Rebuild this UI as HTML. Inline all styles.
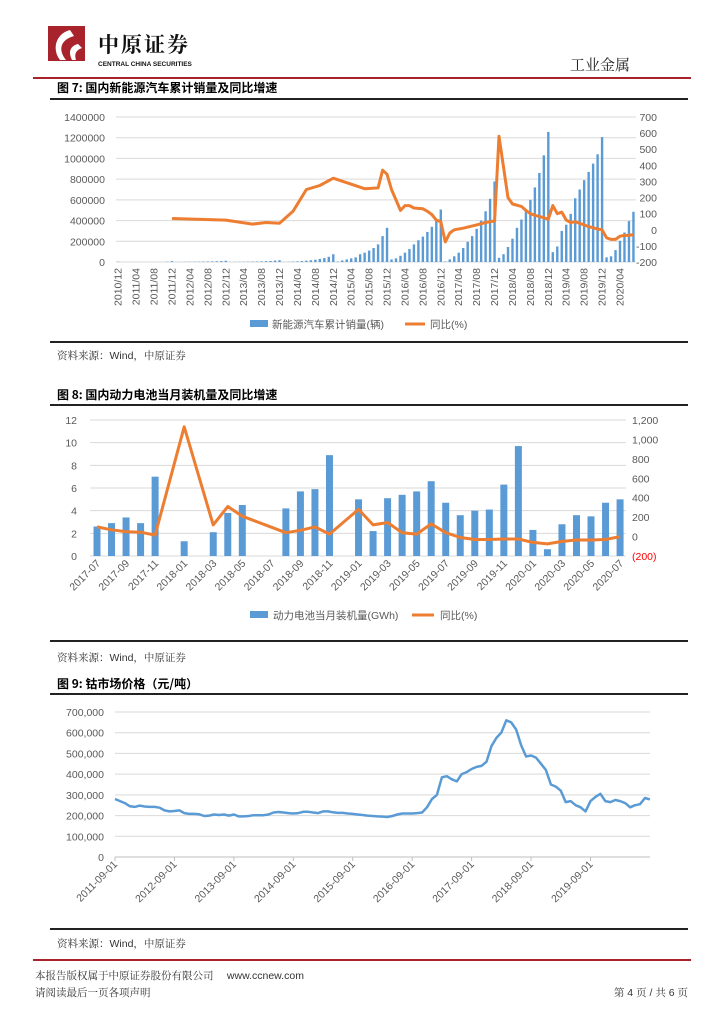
<!DOCTYPE html>
<html><head><meta charset="utf-8">
<style>
body{margin:0;background:#fff;}
svg{display:block;font-family:"Liberation Sans","Noto Sans CJK SC",sans-serif;}
.tk{font-size:10.5px;fill:#595959;}
.ttl{font-size:12px;font-weight:bold;fill:#000;font-family:"Noto Sans CJK SC",sans-serif;}
.src{font-size:10.5px;fill:#333;font-family:"Liberation Sans","Noto Serif CJK SC",serif;}
</style></head>
<body>
<svg id="pg" width="724" height="1024" viewBox="0 0 724 1024">
  <!-- header -->
  <g>
    <rect x="48" y="26" width="37" height="35" fill="#a8232b"/>
    <path d="M70 30 C55 34 52 50 60 60 L66 60 C58 50 60 40 74 36 Z" fill="#fff"/>
    <path d="M78 44 C70 46 68 52 72 60 L76 60 C74 54 76 50 82 48 Z" fill="#fff"/>
    <text x="98" y="52" font-size="21" font-weight="bold" fill="#111" font-family="Noto Serif CJK SC,serif" letter-spacing="2">中原证券</text>
    <text x="98" y="66" font-size="6.5" font-weight="bold" fill="#111">CENTRAL CHINA SECURITIES</text>
  </g>
  <text x="570" y="70" font-size="15" fill="#222" font-family="Noto Serif CJK SC,serif">工业金属</text>
  <rect x="33" y="77" width="658" height="2" fill="#a8232b"/>

  <text x="57" y="92" class="ttl">图 7:  国内新能源汽车累计销量及同比增速</text>
  <rect x="50" y="98" width="638" height="2" fill="#222"/>
  <g id="c1"></g>
  <rect x="50" y="341" width="638" height="2" fill="#222"/>
  <text x="57" y="359" class="src">资料来源：Wind，中原证券</text>

  <text x="57" y="399" class="ttl">图 8:  国内动力电池当月装机量及同比增速</text>
  <rect x="50" y="404" width="638" height="2" fill="#222"/>
  <g id="c2"></g>
  <rect x="50" y="640" width="638" height="2" fill="#222"/>
  <text x="57" y="661" class="src">资料来源：Wind，中原证券</text>

  <text x="57" y="688" class="ttl">图 9:  钴市场价格（元/吨）</text>
  <rect x="50" y="693" width="638" height="2" fill="#222"/>
  <g id="c3"></g>
  <rect x="50" y="928" width="638" height="2" fill="#222"/>
  <text x="57" y="947" class="src">资料来源：Wind，中原证券</text>

  <rect x="33" y="959" width="658" height="2" fill="#a8232b"/>
  <text x="35" y="979" class="src" font-size="11">本报告版权属于中原证券股份有限公司　 www.ccnew.com</text>
  <text x="35" y="996" class="src" font-size="11">请阅读最后一页各项声明</text>
  <text x="688" y="996" text-anchor="end" class="src" font-size="11">第 4 页 / 共 6 页</text>
</svg>
<script>
const NS="http://www.w3.org/2000/svg";
function mk(p,tag,at,txt){const e=document.createElementNS(NS,tag);for(const k in at)e.setAttribute(k,at[k]);if(txt!==undefined)e.textContent=txt;p.appendChild(e);return e;}

/* ---------- Chart 1 data ---------- */
const c1Start=[2010,12];
const c1Sales=[3000,
0,0,0,0,0,0,0,0,0,0,3000,8000,
500,1000,1500,2000,2500,3000,4000,5000,6000,7000,9000,12000,
500,1000,1500,2000,3000,4000,5000,6000,8000,10000,14000,17000,
1000,2000,4000,6000,9000,13000,17000,22000,30000,38000,50000,75000,
5000,15000,25000,35000,45000,75000,90000,110000,135000,170000,250000,330000,
25000,35000,60000,90000,125000,170000,210000,245000,290000,340000,400000,507000,
5000,25000,55000,90000,135000,195000,250000,320000,400000,490000,610000,777000,
40000,75000,145000,225000,330000,410000,500000,600000,720000,860000,1030000,1256000,
95000,150000,300000,360000,465000,615000,700000,790000,870000,950000,1040000,1206000,
45000,55000,115000,205000,285000,395000,485000];
const c1YoyIdx=[12,24,30,33,36,39,42,45,48,55,58,59,60,61,63,64,65,66,68,69,70,71,72,73,74,75,77,80,82,84,85,87,88,90,91,92,93,95,96,97,98,99,100,101,102,103,104,105,107,108,109,110,111,112,113,114,115];
const c1Yoy=[70,60,35,45,40,115,250,275,320,255,260,370,345,250,120,150,150,135,130,115,95,60,50,-75,-20,0,10,30,45,55,580,200,160,145,120,100,90,75,65,150,100,110,60,45,50,40,30,20,5,0,-50,-60,-60,-40,-35,-35,-30];
const c1LeftTicks=["0","200000","400000","600000","800000","1000000","1200000","1400000"];
const c1RightTicks=["-200","-100","0","100","200","300","400","500","600","700"];

/* ---------- Chart 2 data ---------- */
const c2Months=["2017-07","2017-08","2017-09","2017-10","2017-11","2017-12","2018-01","2018-02","2018-03","2018-04","2018-05","2018-06","2018-07","2018-08","2018-09","2018-10","2018-11","2018-12","2019-01","2019-02","2019-03","2019-04","2019-05","2019-06","2019-07","2019-08","2019-09","2019-10","2019-11","2019-12","2020-01","2020-02","2020-03","2020-04","2020-05","2020-06","2020-07"];
const c2Bars=[2.6,2.9,3.4,2.9,7.0,null,1.3,null,2.1,3.8,4.5,null,null,4.2,5.7,5.9,8.9,null,5.0,2.2,5.1,5.4,5.7,6.6,4.7,3.6,4.0,4.1,6.3,9.7,2.3,0.6,2.8,3.6,3.5,4.7,5.0];
const c2Yoy=[100,70,50,45,15,null,1130,null,120,310,210,null,null,40,65,100,25,null,280,120,145,40,25,130,40,-10,-30,-30,-25,-25,-60,-75,-50,-35,-35,-30,0];
const c2LeftTicks=["0","2","4","6","8","10","12"];
const c2RightTicks=["(200)","0","200","400","600","800","1,000","1,200"];

/* ---------- Chart 3 data (monthly from 2011-09) ---------- */
const c3Price=[280,270,260,245,
242,248,244,242,242,238,225,220,222,225,212,208,
208,206,198,200,205,203,205,200,205,196,196,198,
202,202,202,205,215,217,215,212,210,212,218,218,
215,212,220,220,216,213,213,210,208,205,203,200,
198,196,195,193,198,205,210,210,
210,212,215,240,
280,300,385,390,375,365,400,410,425,435,440,460,
535,575,600,660,650,615,540,485,490,480,450,420,
350,340,320,265,270,250,240,220,270,290,305,270,
265,275,270,260,240,250,255,285,278].map(v=>v*1000);
const c3XLabels=["2011-09-01","2012-09-01","2013-09-01","2014-09-01","2015-09-01","2016-09-01","2017-09-01","2018-09-01","2019-09-01"];
const c3YTicks=["0","100,000","200,000","300,000","400,000","500,000","600,000","700,000"];

const BLUE="#5b9bd5",ORANGE="#ed7d31",GRID="#d9d9d9";

/* ---------- draw chart 1 ---------- */
(function(){
  const g=document.getElementById('c1');
  const X0=116,W=4.48,Y0=262,Y1=117;
  const x=i=>X0+(i+0.5)*W;
  const yL=v=>Y0-(v/1400000)*(Y0-Y1);
  const yR=v=>Y0-((v+200)/900)*(Y0-Y1);
  c1LeftTicks.forEach((t,i)=>{
    const yy=yL(+t);
    const l=mk(g,'line',{x1:X0,x2:X0+116*W,y1:yy,y2:yy,stroke:GRID,'stroke-width':1});
    
    
    const tx=mk(g,'text',{x:105,y:yy+4,'text-anchor':'end',class:'tk'},t);
    
    
  });
  c1RightTicks.forEach(t=>{
    const tx=mk(g,'text',{x:657,y:yR(+t)+4,'text-anchor':'end',class:'tk'},t);
    
    
  });
  c1Sales.forEach((v,i)=>{
    if(!v)return;
    const r=mk(g,'rect',{x:x(i)-1.2,y:yL(v),width:2.4,height:Y0-yL(v),fill:BLUE});
    
    
  });
  for(let i=0;i<c1Sales.length;i+=4){
    const m=c1Start[1]-1+i, yr=c1Start[0]+Math.floor(m/12), mo=m%12+1;
    const lab=yr+'/'+String(mo).padStart(2,'0');
    const tx=mk(g,'text',{x:0,y:0,'text-anchor':'end',class:'tk',transform:`translate(${x(i)+3.5},268) rotate(-90)`},lab);
    
    
  }
  const pts=c1YoyIdx.map((ix,k)=>x(ix).toFixed(1)+','+yR(c1Yoy[k]).toFixed(1)).join(' ');
  const pl=mk(g,'polyline',{points:pts,fill:'none',stroke:ORANGE,'stroke-width':3,'stroke-linejoin':'round'});
  
  
  const lg=mk(g,'g',{});
  
  
  mk(lg,'rect',{x:250,y:320,width:18,height:7,fill:BLUE});
  mk(lg,'text',{x:272,y:328,class:'tk'},'新能源汽车累计销量(辆)');
  mk(lg,'line',{x1:405,x2:425,y1:324,y2:324,stroke:ORANGE,'stroke-width':3});
  mk(lg,'text',{x:430,y:328,class:'tk'},'同比(%)');
})();

/* ---------- draw chart 2 ---------- */
(function(){
  const g=document.getElementById('c2');
  const X0=90,SW=14.53,Y0=556,Y1=420;
  const x=i=>X0+7+i*SW;
  const yL=v=>Y0-(v/12)*(Y0-Y1);
  const yR=v=>Y0-((v+200)/1400)*(Y0-Y1);
  c2LeftTicks.forEach(t=>{
    const yy=yL(+t);
    const l=mk(g,'line',{x1:X0,x2:626,y1:yy,y2:yy,stroke:GRID,'stroke-width':1});
    
    
    const tx=mk(g,'text',{x:77,y:yy+4,'text-anchor':'end',class:'tk'},t);
    
    
  });
  c2RightTicks.forEach(t=>{
    const v=+t.replace(/[(),]/g,'')*(t[0]=='('?-1:1);
    const tx=mk(g,'text',{x:632,y:yR(v)+4,class:'tk',fill:t[0]=='('?'#ff0000':'#595959',style:t[0]=='('?'fill:#ff0000':''},t);
    
    
  });
  c2Bars.forEach((v,i)=>{
    if(v==null)return;
    const r=mk(g,'rect',{x:x(i)-3.5,y:yL(v),width:7,height:Y0-yL(v),fill:BLUE});
    
    
  });
  c2Months.forEach((m,i)=>{
    if(i%2)return;
    const tx=mk(g,'text',{x:0,y:0,'text-anchor':'end',class:'tk',transform:`translate(${x(i)+4},564) rotate(-45)`},m);
    
    
  });
  const pts=[];c2Yoy.forEach((v,i)=>{if(v!=null)pts.push(x(i).toFixed(1)+','+yR(v).toFixed(1));});
  const pl=mk(g,'polyline',{points:pts.join(' '),fill:'none',stroke:ORANGE,'stroke-width':3,'stroke-linejoin':'round'});
  
  
  const lg=mk(g,'g',{});
  
  
  mk(lg,'rect',{x:250,y:611,width:18,height:7,fill:BLUE});
  mk(lg,'text',{x:273,y:619,class:'tk'},'动力电池当月装机量(GWh)');
  mk(lg,'line',{x1:412,x2:434,y1:615,y2:615,stroke:ORANGE,'stroke-width':3});
  mk(lg,'text',{x:440,y:619,class:'tk'},'同比(%)');
})();

/* ---------- draw chart 3 ---------- */
(function(){
  const g=document.getElementById('c3');
  const X0=115,W=4.953,Y0=857,Y1=712;
  const x=i=>X0+i*W;
  const y=v=>Y0-(v/700000)*(Y0-Y1);
  c3YTicks.forEach(t=>{
    const yy=y(+t.replace(/,/g,''));
    const l=mk(g,'line',{x1:X0,x2:650,y1:yy,y2:yy,stroke:t=='0'?'#bfbfbf':GRID,'stroke-width':1});
    
    
    const tx=mk(g,'text',{x:104,y:yy+4,'text-anchor':'end',class:'tk'},t);
    
    
  });
  c3XLabels.forEach((t,k)=>{
    const xx=x(k*12);
    mk(g,'line',{x1:xx,x2:xx,y1:Y0,y2:Y0+4,stroke:'#bfbfbf'});
    const tx=mk(g,'text',{x:0,y:0,'text-anchor':'end',class:'tk',transform:`translate(${xx+3},865) rotate(-45)`},t);
    
    
  });
  const pts=c3Price.map((v,i)=>x(i).toFixed(1)+','+y(v).toFixed(1)).join(' ');
  const pl=mk(g,'polyline',{points:pts,fill:'none',stroke:BLUE,'stroke-width':2.5,'stroke-linejoin':'round'});
  
  
})();
</script>
</body></html>
